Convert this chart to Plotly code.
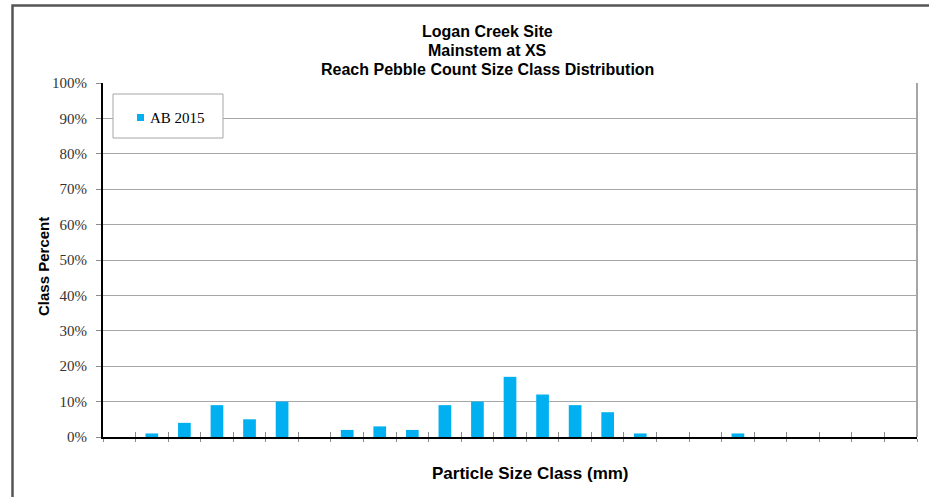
import plotly.graph_objects as go

# ---- data ----
size_classes = [
    "Silt/Clay", "Very Fine Sand", "Fine Sand", "Medium Sand", "Coarse Sand",
    "Very Coarse Sand", "Very Fine Gravel", "Fine Gravel", "Fine Gravel 2",
    "Medium Gravel", "Medium Gravel 2", "Coarse Gravel", "Coarse Gravel 2",
    "Very Coarse Gravel", "Very Coarse Gravel 2", "Small Cobble", "Medium Cobble",
    "Large Cobble", "Very Large Cobble", "Small Boulder", "Small Boulder 2",
    "Medium Boulder", "Large Boulder", "Very Large Boulder", "Bedrock",
]
ab_2015 = [0, 1, 4, 9, 5, 10, 0, 2, 3, 2, 9, 10, 17, 12, 9, 7, 1, 0, 0, 1, 0, 0, 0, 0, 0]
y_ticks = list(range(0, 101, 10))
series_name = "AB 2015"
title_lines = ["Logan Creek Site", "Mainstem at XS", "Reach Pebble Count Size Class Distribution"]
x_title = "Particle Size Class (mm)"
y_title = "Class Percent"

# ---- layout geometry (page pixels) ----
W, H = 929, 497
L, R, T, B = 103, 917, 83, 437
pw, ph = R - L, B - T

def px(x):
    return (x - L) / pw

def py(y):
    return (B - y) / ph

BAR = "#00B0F0"
SANS = "Liberation Sans, Arial, sans-serif"
SERIF = "Liberation Serif, Times New Roman, serif"

fig = go.Figure()
fig.add_trace(go.Bar(
    x=size_classes, y=ab_2015, name=series_name,
    marker=dict(color=BAR, line=dict(width=0)),
    showlegend=False,
))

n = len(size_classes)
fig.update_layout(
    width=W, height=H,
    margin=dict(l=L, r=W - R, t=T, b=H - B, pad=0),
    paper_bgcolor="white", plot_bgcolor="white",
    bargap=0.61,
    xaxis=dict(
        type="category", categoryorder="array", categoryarray=size_classes,
        range=[-0.5, n - 0.5],
        showticklabels=False, showgrid=False,
        ticks="outside", ticklen=3, tickcolor="#8c8c8c", tickwidth=1,
        tickson="boundaries",
        showline=True, linecolor="black", linewidth=2,
        zeroline=False,
    ),
    xaxis2=dict(
        overlaying="x", anchor="y", side="bottom",
        type="linear", range=[-0.5, n - 0.5],
        tickmode="array", tickvals=[i - 0.5 for i in range(n + 1)],
        ticks="inside", ticklen=5, tickcolor="#8c8c8c", tickwidth=1,
        showticklabels=False, showgrid=False, showline=False, zeroline=False,
    ),
    yaxis=dict(
        range=[0, 100], tickmode="array", tickvals=y_ticks,
        ticktext=[f"{v}%" for v in y_ticks],
        showgrid=True, gridcolor="#a6a6a6", gridwidth=1,
        ticks="outside", ticklen=5, tickcolor="#8c8c8c", tickwidth=1,
        showline=True, linecolor="black", linewidth=2,
        zeroline=False,
        tickfont=dict(family=SERIF, size=15, color="#333333"),
        ticklabelstandoff=6,
    ),
)

# invisible trace to anchor xaxis2
fig.add_trace(go.Scatter(x=[0], y=[0], xaxis="x2", yaxis="y", mode="markers",
                         marker=dict(opacity=0), showlegend=False, hoverinfo="skip"))

shapes = []
# outer chart border
shapes.append(dict(type="rect", xref="paper", yref="paper",
                   x0=px(12.5), x1=px(960), y0=py(530), y1=py(5.5),
                   line=dict(color="#555555", width=2.5), fillcolor="rgba(0,0,0,0)", layer="below"))
# right plot border
shapes.append(dict(type="line", xref="paper", yref="paper", x0=1, x1=1, y0=0, y1=1,
                   line=dict(color="#a6a6a6", width=2), layer="above"))
# legend box
shapes.append(dict(type="rect", xref="paper", yref="paper",
                   x0=px(113), x1=px(223), y0=py(138), y1=py(94),
                   line=dict(color="#a6a6a6", width=1), fillcolor="white", layer="above"))
# legend swatch
shapes.append(dict(type="rect", xref="paper", yref="paper",
                   x0=px(137), x1=px(144), y0=py(121), y1=py(114),
                   line=dict(width=0), fillcolor=BAR, layer="above"))
fig.update_layout(shapes=shapes)

ann = []
for txt, yc in zip(title_lines, [32, 50.5, 69]):
    ann.append(dict(text=f"<b>{txt}</b>", xref="paper", yref="paper",
                    x=px(487.5), y=py(yc), xanchor="center", yanchor="middle",
                    showarrow=False, font=dict(family=SANS, size=16, color="black")))
ann.append(dict(text=f"<b>{x_title}</b>", xref="paper", yref="paper",
                x=px(530), y=py(473), xanchor="center", yanchor="middle",
                showarrow=False, font=dict(family=SANS, size=17, color="black")))
ann.append(dict(text=f"<b>{y_title}</b>", xref="paper", yref="paper",
                x=px(43), y=py(267), xanchor="center", yanchor="middle", textangle=-90,
                showarrow=False, font=dict(family=SANS, size=15, color="black")))
ann.append(dict(text=series_name, xref="paper", yref="paper",
                x=px(148), y=py(118), xanchor="left", yanchor="middle",
                showarrow=False, font=dict(family=SERIF, size=15, color="black")))
fig.update_layout(annotations=ann)

fig.write_html("out.html", config={"displayModeBar": False},
               post_script="document.body.style.margin='0';document.body.style.overflow='hidden';")
